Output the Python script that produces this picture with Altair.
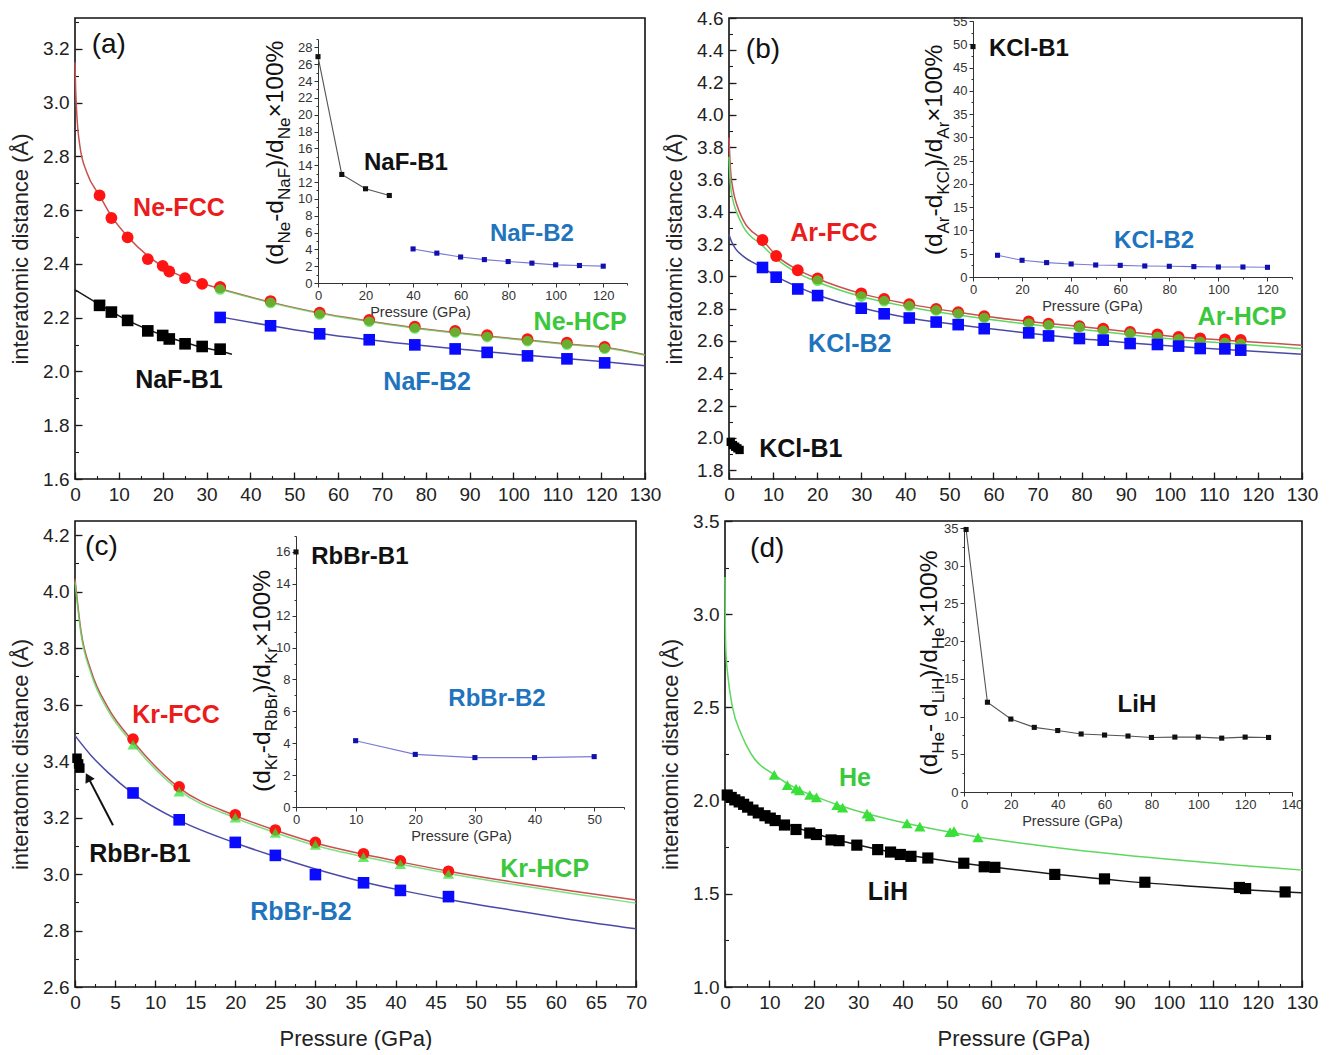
import altair as alt
import pandas as pd

FONT = "Liberation Sans"
YTITLE = "interatomic distance (Å)"
XTITLE = "Pressure (GPa)"

RED_M, GREEN_M, BLUE_M, BLACK_M = "#ff1414", "#3ae03a", "#0a0aff", "#000000"
RED_L, GREEN_L, BLUE_L, BLACK_L = "#c85050", "#5fd85f", "#4a4aa6", "#1a1a1a"
RED_T, GREEN_T, BLUE_T, BLACK_T = "#ea1c1c", "#3cc83c", "#1f74bd", "#111111"

# ---------------- Panel (a): Ne / NaF ----------------
a_p_low = [5.6, 8.3, 12.0, 16.6, 20.0, 21.5, 25.1, 29.0, 33.1]
a_p_high = [33.1, 44.6, 55.8, 67.1, 77.5, 86.7, 94.0, 103.2, 112.2, 120.8]
a_ne_fcc = [2.655, 2.571, 2.499, 2.418, 2.393, 2.372, 2.347, 2.326, 2.314]
a_ne_fcc_high = [2.314, 2.262, 2.219, 2.192, 2.167, 2.151, 2.135, 2.12, 2.107, 2.091]
a_ne_hcp = [2.305, 2.255, 2.212, 2.185, 2.16, 2.145, 2.128, 2.113, 2.1, 2.085]
a_naf_b1 = [2.246, 2.221, 2.190, 2.151, 2.134, 2.121, 2.103, 2.093, 2.083]
a_naf_b2 = [2.201, 2.170, 2.140, 2.118, 2.099, 2.084, 2.071, 2.058, 2.047, 2.032]
a_fcc_curve_p = [0, 0.15, 0.4, 1.1, 2.7, 5.6, 8.3, 12.0, 16.6, 21.5, 29.0, 33.1, 44.6, 55.8, 67.1, 77.5, 86.7, 94.0, 103.2, 112.2, 120.8, 130]
a_fcc_curve_d = [3.15, 3.05, 2.96, 2.84, 2.74, 2.655, 2.578, 2.502, 2.43, 2.376, 2.327, 2.308, 2.258, 2.218, 2.188, 2.163, 2.145, 2.132, 2.117, 2.102, 2.09, 2.062]
a_hcp_curve_p = [33.1, 44.6, 55.8, 67.1, 77.5, 86.7, 94.0, 103.2, 112.2, 120.8, 130]
a_hcp_curve_d = [2.306, 2.256, 2.216, 2.186, 2.161, 2.143, 2.13, 2.115, 2.1, 2.088, 2.06]
a_b1_curve_p = [0, 5.6, 12.0, 20.0, 25.1, 29.0, 33.1, 35.8]
a_b1_curve_d = [2.304, 2.249, 2.19, 2.135, 2.108, 2.09, 2.076, 2.064]
a_b2_curve_p = [33.1, 44.6, 55.8, 67.1, 77.5, 86.7, 94.0, 103.2, 112.2, 120.8, 130]
a_b2_curve_d = [2.203, 2.170, 2.141, 2.118, 2.099, 2.085, 2.073, 2.06, 2.048, 2.036, 2.021]
a_in_b1_p = [0, 10, 20, 30]
a_in_b1_v = [26.9, 12.9, 11.2, 10.4]
a_in_b2_p = [40, 50, 60, 70, 80, 90, 100, 110, 120]
a_in_b2_v = [4.05, 3.55, 3.09, 2.78, 2.55, 2.36, 2.16, 2.08, 2.0]
a_x_ticks = [0, 10, 20, 30, 40, 50, 60, 70, 80, 90, 100, 110, 120, 130]
a_y_ticks = [1.6, 1.8, 2.0, 2.2, 2.4, 2.6, 2.8, 3.0, 3.2]
a_in_x_ticks = [0, 20, 40, 60, 80, 100, 120]
a_in_y_ticks = [0, 2, 4, 6, 8, 10, 12, 14, 16, 18, 20, 22, 24, 26, 28]

# ---------------- Panel (b): Ar / KCl ----------------
b_p = [7.6, 10.7, 15.6, 20.1, 30.0, 35.2, 40.9, 47.0, 52.0, 57.9, 68.0, 72.5, 79.5, 84.9, 91.0, 97.2, 102.0, 106.9, 112.5, 116.1]
b_ar_fcc = [3.225, 3.126, 3.038, 2.987, 2.895, 2.86, 2.828, 2.799, 2.778, 2.754, 2.721, 2.707, 2.692, 2.676, 2.656, 2.640, 2.625, 2.615, 2.609, 2.607]
b_p_hcp = [20.1, 30.0, 35.2, 40.9, 47.0, 52.0, 57.9, 68.0, 72.5, 79.5, 84.9, 91.0, 97.2, 102.0, 106.9, 112.5, 116.1]
b_ar_hcp = [2.973, 2.875, 2.846, 2.815, 2.789, 2.768, 2.742, 2.707, 2.697, 2.684, 2.662, 2.645, 2.625, 2.610, 2.595, 2.588, 2.582]
b_kcl_b2 = [3.055, 2.995, 2.922, 2.881, 2.803, 2.768, 2.742, 2.717, 2.701, 2.676, 2.65, 2.631, 2.615, 2.605, 2.584, 2.578, 2.568, 2.553, 2.551, 2.543]
b_kcl_b1_p = [0.4, 0.9, 1.4, 1.9, 2.4]
b_kcl_b1 = [1.975, 1.955, 1.945, 1.935, 1.925]
b_fcc_curve_p = [0, 0.3, 0.9, 1.7, 3.2, 7.6, 10.7, 15.6, 20.1, 30, 40.9, 52, 68, 79.5, 91, 102, 112.5, 130]
b_fcc_curve_d = [3.86, 3.68, 3.54, 3.45, 3.35, 3.225, 3.13, 3.04, 2.985, 2.893, 2.828, 2.778, 2.72, 2.69, 2.655, 2.625, 2.605, 2.574]
b_hcp_curve_p = [0, 0.3, 0.9, 1.7, 3.2, 7.6, 10.7, 15.6, 20.1, 30, 40.9, 52, 68, 79.5, 91, 102, 112.5, 130]
b_hcp_curve_d = [3.74, 3.58, 3.47, 3.40, 3.31, 3.19, 3.11, 3.02, 2.965, 2.875, 2.81, 2.76, 2.703, 2.673, 2.638, 2.608, 2.587, 2.552]
b_b2_curve_p = [0, 0.5, 1.5, 3.2, 7.6, 10.7, 15.6, 20.1, 30, 40.9, 52, 68, 79.5, 91, 102, 112.5, 130]
b_b2_curve_d = [3.26, 3.22, 3.17, 3.125, 3.055, 3.0, 2.935, 2.885, 2.805, 2.742, 2.7, 2.648, 2.615, 2.588, 2.565, 2.547, 2.517]
b_in_b1_p = [0]
b_in_b1_v = [49.5]
b_in_b2_p = [10, 20, 30, 40, 50, 60, 70, 80, 90, 100, 110, 120]
b_in_b2_v = [4.67, 3.59, 3.09, 2.8, 2.58, 2.5, 2.37, 2.3, 2.23, 2.15, 2.15, 2.08]
b_y_ticks = [1.8, 2.0, 2.2, 2.4, 2.6, 2.8, 3.0, 3.2, 3.4, 3.6, 3.8, 4.0, 4.2, 4.4, 4.6]
b_in_y_ticks = [0, 5, 10, 15, 20, 25, 30, 35, 40, 45, 50, 55]

# ---------------- Panel (c): Kr / RbBr ----------------
c_p = [7.24, 13.0, 20.0, 25.0, 30.0, 36.0, 40.6, 46.6]
c_kr_fcc = [3.478, 3.309, 3.21, 3.156, 3.112, 3.072, 3.047, 3.01]
c_kr_hcp = [3.458, 3.292, 3.2, 3.146, 3.103, 3.06, 3.035, 3.0]
c_rbbr_b2 = [3.287, 3.192, 3.112, 3.066, 2.998, 2.969, 2.942, 2.92]
c_rbbr_b1_p = [0.25, 0.45, 0.6]
c_rbbr_b1 = [3.41, 3.39, 3.375]
c_curve_p = [0, 0.75, 2.0, 4.1, 7.24, 13, 20, 25, 30, 36, 40.6, 46.6, 55, 62, 70]
c_fcc_curve_d = [4.045, 3.86, 3.72, 3.59, 3.47, 3.305, 3.207, 3.155, 3.11, 3.07, 3.043, 3.01, 2.97, 2.94, 2.908]
c_hcp_curve_d = [4.035, 3.85, 3.71, 3.58, 3.46, 3.296, 3.199, 3.146, 3.101, 3.061, 3.035, 3.002, 2.962, 2.931, 2.897]
c_b2_curve_p = [0, 2, 4.1, 7.24, 13, 20, 25, 30, 36, 40.6, 46.6, 55, 62, 70]
c_b2_curve_d = [3.49, 3.42, 3.36, 3.285, 3.19, 3.11, 3.062, 3.018, 2.972, 2.943, 2.91, 2.87, 2.838, 2.806]
c_in_b1_p = [0]
c_in_b1_v = [16.0]
c_in_b2_p = [10, 20, 30, 40, 50]
c_in_b2_v = [4.16, 3.3, 3.1, 3.1, 3.16]
c_x_ticks = [0, 5, 10, 15, 20, 25, 30, 35, 40, 45, 50, 55, 60, 65, 70]
c_y_ticks = [2.6, 2.8, 3.0, 3.2, 3.4, 3.6, 3.8, 4.0, 4.2]
c_in_x_ticks = [0, 10, 20, 30, 40, 50]
c_in_y_ticks = [0, 2, 4, 6, 8, 10, 12, 14, 16]
c_arrow_p = [4.74, 1.62]
c_arrow_d = [3.173, 3.343]

# ---------------- Panel (d): He / LiH ----------------
d_he_p = [11.1, 14.05, 16.0, 16.8, 19.1, 20.6, 25.2, 26.5, 32.0, 32.7, 41.0, 43.9, 50.7, 51.6, 57.0]
d_he = [2.138, 2.083, 2.064, 2.055, 2.03, 2.017, 1.975, 1.962, 1.93, 1.915, 1.878, 1.86, 1.831, 1.836, 1.803]
d_lih_p = [0.5, 1.4, 2.2, 3.2, 4.2, 5.1, 6.3, 7.5, 9.0, 10.2, 11.3, 13.4, 16.0, 19.1, 20.6, 23.9, 25.7, 29.7, 34.4, 37.3, 39.5, 41.9, 45.7, 53.8, 58.4, 60.8, 74.3, 85.5, 94.6, 115.9, 117.3, 126.2]
d_lih = [2.03, 2.017, 2.004, 1.993, 1.98, 1.965, 1.949, 1.934, 1.919, 1.906, 1.893, 1.869, 1.845, 1.826, 1.818, 1.789, 1.785, 1.761, 1.737, 1.724, 1.711, 1.701, 1.692, 1.664, 1.645, 1.642, 1.604, 1.58, 1.562, 1.534, 1.528, 1.51]
d_he_curve_p = [0, 0.05, 0.2, 0.6, 1.7, 3.6, 5.9, 11.1, 16, 20.6, 26.5, 32.7, 43.9, 57, 70, 85, 100, 115, 130]
d_he_curve_d = [3.2, 3.0, 2.8, 2.68, 2.5, 2.36, 2.25, 2.138, 2.066, 2.02, 1.968, 1.925, 1.862, 1.805, 1.762, 1.72, 1.685, 1.655, 1.627]
d_lih_curve_p = [0, 5, 10, 20, 30, 40, 50, 60, 75, 90, 105, 118, 130]
d_lih_curve_d = [2.045, 1.965, 1.91, 1.825, 1.762, 1.712, 1.676, 1.645, 1.603, 1.568, 1.541, 1.52, 1.505]
d_in_p = [0.9, 10, 20, 30, 40, 50, 60, 70, 80, 90, 100, 110, 120, 130]
d_in_v = [34.8, 11.9, 9.67, 8.57, 8.15, 7.69, 7.55, 7.42, 7.23, 7.28, 7.28, 7.14, 7.28, 7.23]
d_y_ticks = [1.0, 1.5, 2.0, 2.5, 3.0, 3.5]
d_in_x_ticks = [0, 20, 40, 60, 80, 100, 120, 140]
d_in_y_ticks = [0, 5, 10, 15, 20, 25, 30, 35]


def steps(a, b, s):
    n = int(round((b - a) / s))
    return [round(a + i * s, 4) for i in range(n + 1)]


# Arial / Liberation Sans advance widths (per 1000 em) for composing inset titles
WID = {"(": 333, ")": 333, "d": 556, "-": 333, "/": 278, "×": 584, "1": 556, "0": 556,
       "%": 889, "N": 722, "e": 556, "a": 556, "F": 611, "A": 667, "r": 333, "K": 667,
       "C": 722, "l": 222, "R": 722, "b": 556, "B": 667, "H": 722, "i": 222, "L": 556, " ": 278}


def tw(s, size):
    return sum(WID.get(ch, 556) for ch in s) / 1000.0 * size


def maj_axis(orient, values, fmt, title, tpad):
    kw = dict(orient=orient, values=values, format=fmt, tickSize=7, offset=-7, domain=False,
              tickColor="#1a1a1a", tickWidth=1.3, labelFont=FONT, labelFontSize=19,
              labelColor="#222222", labelPadding=6, labelFlush=False, labelOverlap=False, grid=False)
    if title is None:
        kw["title"] = None
    else:
        kw.update(title=title, titleFont=FONT, titleFontSize=22, titleFontWeight="normal",
                  titleColor="#222222", titlePadding=tpad)
    return alt.Axis(**kw)


def min_axis(orient, values):
    return alt.Axis(orient=orient, values=values, tickSize=3.5, offset=-3.5, domain=False,
                    labels=False, title=None, tickColor="#1a1a1a", tickWidth=1.1, grid=False)


def in_axis(orient, values, offset, title_x=None):
    kw = dict(orient=orient, values=values, format="d", tickSize=4, offset=offset, domain=True,
              domainColor="#333333", domainWidth=1, tickColor="#333333", tickWidth=1,
              labelFont=FONT, labelFontSize=13, labelColor="#333333", labelPadding=2,
              labelFlush=False, labelOverlap=False, grid=False)
    if title_x is None:
        kw["title"] = None
    else:
        kw.update(title=XTITLE, titleFont=FONT, titleFontSize=14.5, titleFontWeight="normal",
                  titleColor="#333333", titlePadding=3, titleX=title_x)
    return alt.Axis(**kw)


def in_min_axis(orient, values, offset):
    return alt.Axis(orient=orient, values=values, tickSize=2, offset=offset, domain=False,
                    labels=False, title=None, tickColor="#333333", tickWidth=1, grid=False)


def frame(p, d):
    return pd.DataFrame({"p": p, "d": d})


def build_panel(c):
    W, H = c["W"], c["H"]
    ins = c["inset"]
    xr, yr = ins["xrange"], ins["yrange"]
    x_off = yr[0] - H
    y_off = -xr[0]

    def xs():
        return alt.Scale(domain=c["xdom"], nice=False, zero=False)

    def ys():
        return alt.Scale(domain=c["ydom"], nice=False, zero=False)

    def xsi():
        return alt.Scale(domain=ins["xdom"], range=xr, nice=False, zero=False)

    def ysi():
        return alt.Scale(domain=ins["ydom"], range=yr, nice=False, zero=False)

    layers = []

    def add(ch, inset=False, xa=None, ya=None, extra=None):
        if inset:
            e = dict(x=alt.X("p:Q", scale=xsi(), axis=xa), y=alt.Y("d:Q", scale=ysi(), axis=ya))
        else:
            e = dict(x=alt.X("p:Q", scale=xs(), axis=xa), y=alt.Y("d:Q", scale=ys(), axis=ya))
        if extra:
            e.update(extra)
        layers.append(ch.encode(**e))

    # axes carriers (invisible)
    p0, d0 = c["curves"][0][0], c["curves"][0][1]
    add(alt.Chart(frame(p0, d0)).mark_point(opacity=0, size=1),
        xa=min_axis("bottom", c["x_minor"]), ya=min_axis("left", c["y_minor"]))
    add(alt.Chart(frame(p0, d0)).mark_point(opacity=0, size=1),
        xa=maj_axis("bottom", c["x_major"], "d", c["xtitle"], 16),
        ya=maj_axis("left", c["y_major"], ".1f", YTITLE, 10))

    for (p, d, col, sw, op) in c["curves"]:
        add(alt.Chart(frame(p, d)).mark_line(color=col, strokeWidth=sw, opacity=op, interpolate="monotone"))
    if "arrow" in c:
        ap, ad = c["arrow"]
        adf = pd.DataFrame({"p": [ap[0]], "d": [ad[0]], "p2": [ap[1]], "d2": [ad[1]]})
        add(alt.Chart(adf).mark_rule(color="#111111", strokeWidth=2), extra={"x2": "p2:Q", "y2": "d2:Q"})
        add(alt.Chart(frame([ap[1]], [ad[1]])).mark_point(
            shape="triangle-up", filled=True, size=110, color="#111111", opacity=1, angle=332))
    for (p, d, shape, col, size, op) in c["points"]:
        add(alt.Chart(frame(p, d)).mark_point(shape=shape, filled=True, size=size, color=col, opacity=op))
    for (t, x, y, col, size, weight) in c["labels"]:
        add(alt.Chart(pd.DataFrame({"p": [x], "d": [y], "t": [t]})).mark_text(
            font=FONT, fontSize=size, fontWeight=weight, color=col, align="center", baseline="middle"),
            extra={"text": "t:N"})

    # ---- inset ----
    pi, vi = ins["series"][0][0], ins["series"][0][1]
    add(alt.Chart(frame(pi, vi)).mark_point(opacity=0, size=1), inset=True,
        xa=in_min_axis("bottom", ins["x_minor"], x_off), ya=in_min_axis("left", ins["y_minor"], y_off))
    add(alt.Chart(frame(pi, vi)).mark_point(opacity=0, size=1), inset=True,
        xa=in_axis("bottom", ins["x_major"], x_off, ins["title_x"]), ya=in_axis("left", ins["y_major"], y_off))
    for (p, v, lcol, mcol) in ins["series"]:
        add(alt.Chart(frame(p, v)).mark_line(color=lcol, strokeWidth=1.1), inset=True)
        add(alt.Chart(frame(p, v)).mark_square(size=26, color=mcol, opacity=1), inset=True)
    for (t, x, y, col) in ins["labels"]:
        add(alt.Chart(pd.DataFrame({"p": [x], "d": [y], "t": [t]})).mark_text(
            font=FONT, fontSize=24, fontWeight="bold", color=col, align="center", baseline="middle"),
            inset=True, extra={"text": "t:N"})
    MAIN, SUB, SHIFT = 24.5, 17, 7
    parts = ins["ytitle"]
    widths = [tw(s, SUB if sub else MAIN) for s, sub in parts]
    total = sum(widths)
    bx, cy = ins["ytitle_pos"]
    rows = []
    acc = 0.0
    for (s, sub), w in zip(parts, widths):
        px = bx + (SHIFT if sub else 0)
        py = cy + total / 2 - acc
        dx = ins["xdom"][0] + (px - xr[0]) / (xr[1] - xr[0]) * (ins["xdom"][1] - ins["xdom"][0])
        dy = ins["ydom"][0] + (py - yr[0]) / (yr[1] - yr[0]) * (ins["ydom"][1] - ins["ydom"][0])
        rows.append({"p": dx, "d": dy, "t": s, "s": SUB if sub else MAIN})
        acc += w
    add(alt.Chart(pd.DataFrame(rows)).mark_text(
        font=FONT, angle=270, align="left", baseline="alphabetic", color="#111111"),
        inset=True, extra={"text": "t:N", "size": alt.Size("s:Q", scale=None, legend=None)})

    return alt.layer(*layers).resolve_scale(x="independent", y="independent").properties(width=W, height=H)


PA = dict(
    W=570, H=461, xdom=[0, 130], ydom=[1.6, 3.315], xtitle=None,
    x_major=a_x_ticks, x_minor=steps(0, 130, 5), y_major=a_y_ticks, y_minor=steps(1.6, 3.3, 0.1),
    curves=[(a_fcc_curve_p, a_fcc_curve_d, RED_L, 1.5, 1), (a_hcp_curve_p, a_hcp_curve_d, GREEN_L, 1.5, 0.7),
            (a_b1_curve_p, a_b1_curve_d, BLACK_L, 1.5, 1), (a_b2_curve_p, a_b2_curve_d, BLUE_L, 1.5, 1)],
    points=[(a_p_low, a_ne_fcc, "circle", RED_M, 140, 1), (a_p_high, a_ne_fcc_high, "circle", RED_M, 140, 1),
            (a_p_high, a_ne_hcp, "circle", GREEN_M, 115, 0.75),
            (a_p_low, a_naf_b1, "square", BLACK_M, 135, 1), (a_p_high, a_naf_b2, "square", BLUE_M, 135, 1)],
    labels=[("(a)", 7.7, 3.215, BLACK_T, 28, "normal"), ("Ne-FCC", 23.7, 2.608, RED_T, 25, "bold"),
            ("NaF-B1", 23.7, 1.968, BLACK_T, 25, "bold"), ("NaF-B2", 80.3, 1.961, BLUE_T, 25, "bold"),
            ("Ne-HCP", 115.2, 2.184, GREEN_T, 25, "bold")],
    inset=dict(xdom=[0, 130], ydom=[0, 29], xrange=[243, 552], yrange=[265, 21],
               x_major=a_in_x_ticks, x_minor=steps(0, 130, 10), y_major=a_in_y_ticks, y_minor=steps(0, 29, 1),
               title_x=345,
               series=[(a_in_b1_p, a_in_b1_v, "#555555", "#111111"), (a_in_b2_p, a_in_b2_v, "#7a7ad6", "#1010b0")],
               labels=[("NaF-B1", 37.0, 14.3, BLACK_T), ("NaF-B2", 90.0, 5.8, BLUE_T)],
               ytitle=[("(d", 0), ("Ne", 1), ("-d", 0), ("NaF", 1), (")/d", 0), ("Ne", 1), ("×100%", 0)],
               ytitle_pos=(208, 135)))

PB = dict(
    W=573, H=461, xdom=[0, 130], ydom=[1.745, 4.6], xtitle=None,
    x_major=a_x_ticks, x_minor=steps(0, 130, 5), y_major=b_y_ticks, y_minor=steps(1.8, 4.6, 0.1),
    curves=[(b_fcc_curve_p, b_fcc_curve_d, RED_L, 1.5, 1), (b_hcp_curve_p, b_hcp_curve_d, GREEN_L, 1.5, 1),
            (b_b2_curve_p, b_b2_curve_d, BLUE_L, 1.5, 1)],
    points=[(b_p, b_ar_fcc, "circle", RED_M, 140, 1), (b_p_hcp, b_ar_hcp, "circle", GREEN_M, 115, 0.75),
            (b_p, b_kcl_b2, "square", BLUE_M, 135, 1), (b_kcl_b1_p, b_kcl_b1, "square", BLACK_M, 70, 1)],
    labels=[("(b)", 7.7, 4.404, BLACK_T, 28, "normal"), ("Ar-FCC", 23.8, 3.268, RED_T, 25, "bold"),
            ("KCl-B2", 27.4, 2.58, BLUE_T, 25, "bold"), ("Ar-HCP", 116.4, 2.746, GREEN_T, 25, "bold"),
            ("KCl-B1", 16.3, 1.929, BLACK_T, 25, "bold")],
    inset=dict(xdom=[0, 130], ydom=[0, 55], xrange=[244, 563], yrange=[259, 3],
               x_major=a_in_x_ticks, x_minor=steps(0, 130, 10), y_major=b_in_y_ticks, y_minor=steps(0, 55, 2.5),
               title_x=363,
               series=[(b_in_b1_p, b_in_b1_v, "#555555", "#111111"), (b_in_b2_p, b_in_b2_v, "#7a7ad6", "#1010b0")],
               labels=[("KCl-B1", 22.8, 49.0, BLACK_T), ("KCl-B2", 73.8, 7.7, BLUE_T)],
               ytitle=[("(d", 0), ("Ar", 1), ("-d", 0), ("KCl", 1), (")/d", 0), ("Ar", 1), ("×100%", 0)],
               ytitle_pos=(213, 132)))

PC = dict(
    W=561, H=466, xdom=[0, 70], ydom=[2.6, 4.25], xtitle=XTITLE,
    x_major=c_x_ticks, x_minor=steps(0, 70, 2.5), y_major=c_y_ticks, y_minor=steps(2.6, 4.2, 0.1),
    curves=[(c_curve_p, c_fcc_curve_d, RED_L, 1.5, 1), (c_curve_p, c_hcp_curve_d, GREEN_L, 1.5, 0.8),
            (c_b2_curve_p, c_b2_curve_d, BLUE_L, 1.5, 1)],
    arrow=(c_arrow_p, c_arrow_d),
    points=[(c_p, c_kr_fcc, "circle", RED_M, 135, 1), (c_p, c_kr_hcp, "triangle-up", GREEN_M, 125, 0.75),
            (c_p, c_rbbr_b2, "square", BLUE_M, 135, 1), (c_rbbr_b1_p, c_rbbr_b1, "square", BLACK_M, 90, 1)],
    labels=[("(c)", 3.3, 4.158, BLACK_T, 28, "normal"), ("Kr-FCC", 12.6, 3.563, RED_T, 25, "bold"),
            ("RbBr-B1", 8.1, 3.07, BLACK_T, 25, "bold"), ("RbBr-B2", 28.2, 2.866, BLUE_T, 25, "bold"),
            ("Kr-HCP", 58.6, 3.018, GREEN_T, 25, "bold")],
    inset=dict(xdom=[0, 55], ydom=[0, 17], xrange=[221, 549], yrange=[286, 15],
               x_major=c_in_x_ticks, x_minor=steps(0, 55, 5), y_major=c_in_y_ticks, y_minor=steps(0, 17, 1),
               title_x=386,
               series=[(c_in_b1_p, c_in_b1_v, "#555555", "#111111"), (c_in_b2_p, c_in_b2_v, "#7a7ad6", "#1010b0")],
               labels=[("RbBr-B1", 10.7, 15.7, BLACK_T), ("RbBr-B2", 33.7, 6.8, BLUE_T)],
               ytitle=[("(d", 0), ("Kr", 1), ("-d", 0), ("RbBr", 1), (")/d", 0), ("Kr", 1), ("×100%", 0)],
               ytitle_pos=(195, 160)))

PD = dict(
    W=577, H=466, xdom=[0, 130], ydom=[1.0, 3.5], xtitle=XTITLE,
    x_major=a_x_ticks, x_minor=steps(0, 130, 5), y_major=d_y_ticks, y_minor=steps(1.0, 3.5, 0.25),
    curves=[(d_he_curve_p, d_he_curve_d, GREEN_L, 1.5, 1), (d_lih_curve_p, d_lih_curve_d, BLACK_L, 1.5, 1)],
    points=[(d_he_p, d_he, "triangle-up", GREEN_M, 125, 1), (d_lih_p, d_lih, "square", BLACK_M, 125, 1)],
    labels=[("(d)", 9.5, 3.35, BLACK_T, 28, "normal"), ("He", 29.3, 2.119, GREEN_T, 25, "bold"),
            ("LiH", 36.7, 1.51, BLACK_T, 25, "bold")],
    inset=dict(xdom=[0, 140], ydom=[0, 35], xrange=[239, 567], yrange=[271, 7],
               x_major=d_in_x_ticks, x_minor=steps(0, 140, 10), y_major=d_in_y_ticks, y_minor=steps(0, 35, 2.5),
               title_x=347,
               series=[(d_in_p, d_in_v, "#555555", "#111111")],
               labels=[("LiH", 73.8, 11.5, BLACK_T)],
               ytitle=[("(d", 0), ("He", 1), ("- d", 0), ("LiH", 1), (")/d", 0), ("He", 1), ("×100%", 0)],
               ytitle_pos=(212, 142)))

row1 = alt.hconcat(build_panel(PA), build_panel(PB), spacing=0)
row2 = alt.hconcat(build_panel(PC), build_panel(PD), spacing=10)
chart = alt.vconcat(row1, row2, spacing=6).properties(
    padding={"left": 0, "top": 0, "right": 4, "bottom": 0}
).configure(font=FONT).configure_view(stroke="#111111", strokeWidth=1.6)

chart.save("out.html", embed_options={"renderer": "svg", "actions": False})
